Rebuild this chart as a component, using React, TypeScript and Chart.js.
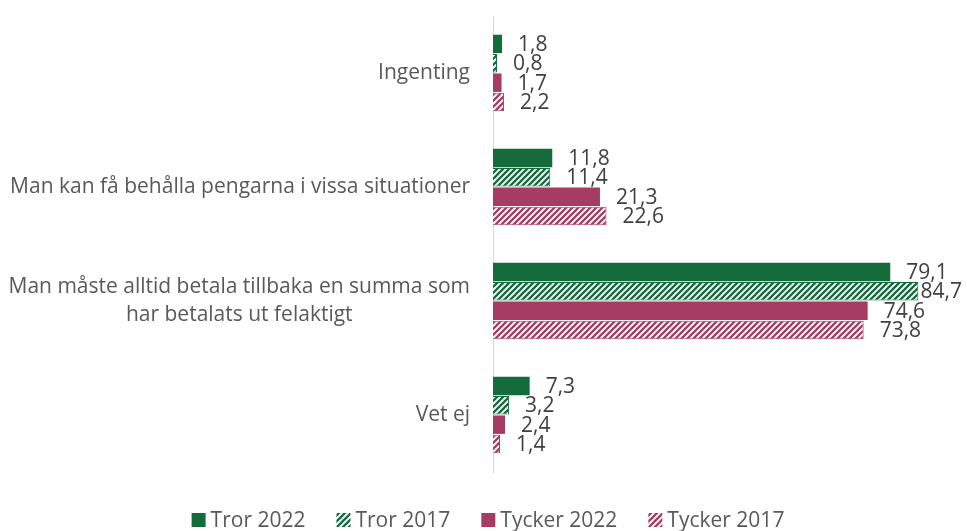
import React, { useEffect, useRef } from 'react';
import { Chart, registerables } from 'chart.js';
Chart.register(...registerables);

const categories: string[][] = [
  ['Ingenting'],
  ['Man kan få behålla pengarna i vissa situationer'],
  ['Man måste alltid betala tillbaka en summa som', 'har betalats ut felaktigt'],
  ['Vet ej'],
];
const seriesNames = ['Tror 2022', 'Tror 2017', 'Tycker 2022', 'Tycker 2017'];
const tror2022 = [1.8, 11.8, 79.1, 7.3];
const tror2017 = [0.8, 11.4, 84.7, 3.2];
const tycker2022 = [1.7, 21.3, 74.6, 2.4];
const tycker2017 = [2.2, 22.6, 73.8, 1.4];

const GREEN = '#146b3c';
const CRIMSON = '#a73c63';
const FONT = '"Open Sans", sans-serif';

function makeHatch(color: string): CanvasPattern | string {
  const c = document.createElement('canvas');
  c.width = 6;
  c.height = 6;
  const x = c.getContext('2d');
  if (!x) return color;
  x.fillStyle = '#ffffff';
  x.fillRect(0, 0, 6, 6);
  x.strokeStyle = color;
  x.lineWidth = 2.3;
  x.lineCap = 'square';
  x.beginPath();
  x.moveTo(-1, 1); x.lineTo(1, -1);
  x.moveTo(0, 6); x.lineTo(6, 0);
  x.moveTo(5, 7); x.lineTo(7, 5);
  x.stroke();
  return x.createPattern(c, 'repeat') || color;
}

const fmt = (v: number) => v.toFixed(1).replace('.', ',');

export default function App() {
  const ref = useRef<HTMLCanvasElement | null>(null);
  useEffect(() => {
    if (!ref.current) return;
    const greenHatch = makeHatch(GREEN);
    const crimsonHatch = makeHatch(CRIMSON);
    const fills = [GREEN, greenHatch, CRIMSON, crimsonHatch];
    const borders = [GREEN, GREEN, CRIMSON, CRIMSON];
    const values = [tror2022, tror2017, tycker2022, tycker2017];

    const customPlugin = {
      id: 'customDraw',
      afterDatasetsDraw(chart: any) {
        const ctx = chart.ctx as CanvasRenderingContext2D;
        ctx.save();
        // data labels
        ctx.font = `21px ${FONT}`;
        ctx.fillStyle = '#404040';
        ctx.textAlign = 'left';
        ctx.textBaseline = 'middle';
        chart.data.datasets.forEach((ds: any, di: number) => {
          const meta = chart.getDatasetMeta(di);
          meta.data.forEach((el: any, i: number) => {
            const t = fmt(ds.data[i]);
            const w = ctx.measureText(t).width;
            const x = Math.min(el.x + 16, chart.width - 5 - w);
            ctx.fillText(t, x, el.y + 1);
          });
        });
        // category labels
        const yScale = chart.scales.y;
        const right = chart.chartArea.left - 23;
        const lh = 28;
        ctx.fillStyle = '#595959';
        ctx.textAlign = 'center';
        categories.forEach((lines, i) => {
          const cy = yScale.getPixelForValue(i);
          const maxW = Math.max(...lines.map((l) => ctx.measureText(l).width));
          const cx = right - maxW / 2;
          const top = cy - ((lines.length - 1) * lh) / 2;
          lines.forEach((l, j) => ctx.fillText(l, cx, top + j * lh));
        });
        // legend
        const box = 14;
        const gapBox = 5;
        const gapItem = 31;
        const widths = seriesNames.map((n) => box + gapBox + ctx.measureText(n).width);
        const total = widths.reduce((a, b) => a + b, 0) + gapItem * (seriesNames.length - 1);
        let x = 488 - total / 2;
        const ly = 520;
        ctx.textAlign = 'left';
        seriesNames.forEach((n, i) => {
          ctx.fillStyle = fills[i] as any;
          ctx.fillRect(x, ly - box / 2, box, box);
          ctx.fillStyle = '#595959';
          ctx.fillText(n, x + box + gapBox, ly + 1);
          x += widths[i] + gapItem;
        });
        ctx.restore();
      },
    };

    const chart = new Chart(ref.current, {
      type: 'bar',
      data: {
        labels: categories.map((c) => c.join(' ')),
        datasets: seriesNames.map((name, i) => ({
          label: name,
          data: values[i],
          backgroundColor: fills[i] as any,
          borderColor: borders[i],
          borderWidth: i % 2 === 1 ? 1 : 0,
          categoryPercentage: 0.68,
          barPercentage: 0.95,
        })),
      },
      options: {
        indexAxis: 'y',
        responsive: true,
        maintainAspectRatio: false,
        animation: false,
        layout: { padding: { top: 16, bottom: 59, left: 0, right: 22 } },
        plugins: {
          legend: { display: false },
          tooltip: { enabled: false },
        },
        scales: {
          x: {
            display: false,
            min: 0,
            max: 90,
          },
          y: {
            ticks: { display: false },
            grid: { display: false },
            border: { display: true, color: '#d9d9d9', width: 1 },
            afterFit: (s: any) => {
              s.width = 493;
            },
          },
        },
      },
      plugins: [customPlugin],
    });
    return () => chart.destroy();
  }, []);

  return (
    <div style={{ position: 'absolute', left: 0, top: 0, width: 967, height: 531, background: '#fff' }}>
      <canvas ref={ref} />
    </div>
  );
}
